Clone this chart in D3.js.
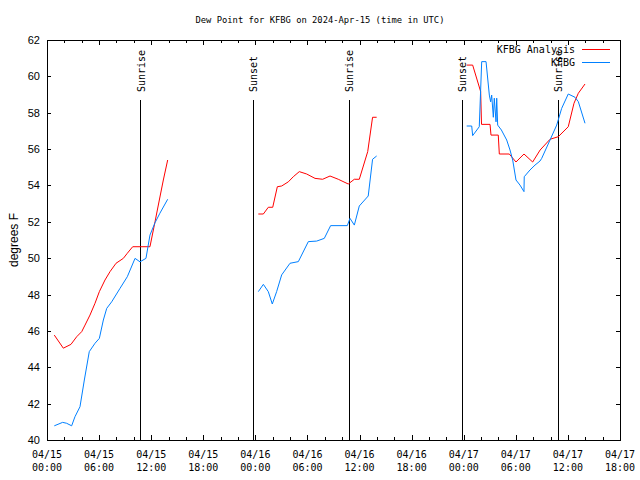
<!DOCTYPE html>
<html>
<head>
<meta charset="utf-8">
<script src="https://cdn.jsdelivr.net/npm/d3@7"></script>
<style>
  html, body { margin: 0; padding: 0; background: #fff; }
  svg { display: block; }
</style>
</head>
<body>
<script>
// ---- data (hours after 2024-04-15 00:00 UTC; null = gap) ----
const analysisHours = [0.84,1.88,2.76,3.42,4.0,4.38,4.95,5.53,6.03,6.68,7.26,7.95,8.79,9.25,9.87,11.86,12.44,12.94,13.4,13.9,
  null,
  24.34,24.92,25.49,26.0,26.53,27.03,27.8,28.37,29.06,29.91,30.87,31.75,32.6,33.55,34.7,35.4,35.97,36.94,37.5,37.97,
  null,
  48.34,49.03,49.95,50.05,51.03,51.14,51.98,52.1,53.25,54.02,54.94,55.94,56.8,57.94,58.89,60.04,60.7,61.2,61.97];
const analysisValues = [45.77,45.05,45.26,45.68,45.96,46.32,46.87,47.52,48.16,48.8,49.26,49.72,49.99,50.27,50.63,50.63,52.0,53.2,54.3,55.4,
  null,
  52.43,52.43,52.8,52.8,53.93,53.97,54.2,54.48,54.76,54.63,54.39,54.34,54.52,54.34,54.08,54.34,54.34,55.86,57.75,57.75,
  null,
  60.62,60.62,59.16,57.36,57.36,56.77,56.77,55.73,55.73,55.29,55.73,55.29,55.95,56.54,56.68,57.23,58.52,59.07,59.58];

const obsHours = [0.84,1.8,2.26,2.84,3.22,3.8,4.3,4.87,5.53,6.03,6.49,6.88,7.45,8.41,9.25,10.14,10.71,11.4,11.86,12.44,13.0,13.9,
  null,
  24.34,24.92,25.49,25.95,26.45,27.03,27.99,28.95,30.1,31.06,31.94,32.67,34.59,34.9,35.4,35.97,37.0,37.5,37.97,
  null,
  48.34,48.92,49.03,49.79,50.07,50.57,50.95,51.1,51.22,51.41,51.52,51.72,51.8,51.91,52.34,52.95,53.33,53.64,54.02,54.48,54.94,54.97,55.63,56.21,56.78,56.98,57.94,58.71,59.28,60.04,60.82,61.2,61.97];
const obsValues = [40.78,40.97,40.92,40.78,41.28,41.83,43.3,44.86,45.32,45.59,46.6,47.24,47.6,48.34,48.98,49.99,49.8,49.99,51.27,51.95,52.47,53.24,
  null,
  48.16,48.56,48.16,47.48,48.16,49.08,49.72,49.81,50.91,50.94,51.09,51.79,51.79,52.19,51.82,52.87,53.42,55.44,55.62,
  null,
  57.27,57.27,56.74,57.23,60.81,60.81,58.97,58.6,58.97,57.75,58.8,57.5,58.8,57.32,57.05,56.5,55.95,55.4,54.3,54.02,53.66,54.48,54.85,55.12,55.34,55.49,56.5,57.32,58.24,59.03,58.85,58.61,57.42];

const sunLabels = ["Sunrise","Sunset","Sunrise","Sunset","Sunrise"];
const sunHours  = [10.79, 23.76, 34.82, 47.83, 58.89];

const seriesNames  = ["KFBG Analysis", "KFBG"];
const seriesColors = ["#ff0000", "#0080ff"];

const yTickValues = [40,42,44,46,48,50,52,54,56,58,60,62];
const xMajorHours = [0,6,12,18,24,30,36,42,48,54,60,66];
const xMinorHours = d3.range(0, 67, 2);

const title = "Dew Point for KFBG on 2024-Apr-15 (time in UTC)";
const yLabel = "degrees F";

// ---- helpers ----
const base = Date.UTC(2024, 3, 15, 0, 0);
const toDate = h => new Date(base + h * 3600e3);
const fmtDate = d3.utcFormat("%m/%d");
const fmtTime = d3.utcFormat("%H:%M");

const W = 640, H = 480;
const L = 47, R = 620, T = 40, B = 440;
const mono = "'DejaVu Sans Mono', 'Liberation Mono', monospace";
const sans = "'Liberation Sans', Arial, sans-serif";

const svg = d3.select("body").append("svg").attr("width", W).attr("height", H);
svg.append("rect").attr("width", W).attr("height", H).attr("fill", "#fff");

const x = d3.scaleUtc().domain([toDate(0), toDate(66)]).range([L, R]);
const y = d3.scaleLinear().domain([40, 62]).range([B, T]);

// title
svg.append("text").attr("x", 320).attr("y", 23).attr("text-anchor", "middle")
  .style("font-family", mono).style("font-size", "8.8px").text(title);

// y axis label
svg.append("text").attr("transform", `translate(14,${(T + B) / 2}) rotate(-90)`)
  .attr("text-anchor", "middle").attr("dy", "0.35em")
  .style("font-family", sans).style("font-size", "12px").text(yLabel);

// axes (ticks pointing inward)
const gyL = svg.append("g").attr("transform", `translate(${L},0)`)
  .call(d3.axisLeft(y).tickValues(yTickValues).tickSize(-4).tickPadding(7).tickFormat(d3.format("d")));
const gyR = svg.append("g").attr("transform", `translate(${R},0)`)
  .call(d3.axisRight(y).tickValues(yTickValues).tickSize(-4).tickFormat(""));
const gxB = svg.append("g").attr("transform", `translate(0,${B})`)
  .call(d3.axisBottom(x).tickValues(xMinorHours.map(toDate)).tickSize(-3).tickFormat(""));
const gxBM = svg.append("g").attr("transform", `translate(0,${B})`)
  .call(d3.axisBottom(x).tickValues(xMajorHours.map(toDate)).tickSize(-5).tickFormat(""));
const gxT = svg.append("g").attr("transform", `translate(0,${T})`)
  .call(d3.axisTop(x).tickValues(xMinorHours.map(toDate)).tickSize(-3).tickFormat(""));
const gxTM = svg.append("g").attr("transform", `translate(0,${T})`)
  .call(d3.axisTop(x).tickValues(xMajorHours.map(toDate)).tickSize(-5).tickFormat(""));
[gyL, gyR, gxB, gxBM, gxT, gxTM].forEach(g => {
  g.select(".domain").remove();
  g.selectAll("line").attr("stroke", "#000").attr("shape-rendering", "crispEdges");
});
gyL.selectAll("text").style("font-family", sans).style("font-size", "11px").attr("fill", "#000");

// x tick labels (two lines)
const xl = svg.append("g");
xMajorHours.forEach(h => {
  const d = toDate(h);
  const t = xl.append("text").attr("x", x(d)).attr("text-anchor", "middle")
    .style("font-family", mono).style("font-size", "10px");
  t.append("tspan").attr("x", x(d)).attr("y", 458).text(fmtDate(d));
  t.append("tspan").attr("x", x(d)).attr("y", 471).text(fmtTime(d));
});

// sunrise / sunset markers
sunHours.forEach((h, i) => {
  const px = x(toDate(h));
  svg.append("line").attr("x1", px).attr("x2", px)
    .attr("y1", y(40 + 0.85 * 22)).attr("y2", y(40))
    .attr("stroke", "#000").attr("shape-rendering", "crispEdges");
  svg.append("text").attr("transform", `translate(${px + 4},${y(40 + 0.87 * 22)}) rotate(-90)`)
    .attr("text-anchor", "start")
    .style("font-family", mono).style("font-size", "10px").text(sunLabels[i]);
});

// series
const line = d3.line()
  .defined(d => d[1] !== null)
  .x(d => x(toDate(d[0]))).y(d => y(d[1]));

const analysisData = analysisHours.map((h, i) => [h, analysisValues[i]]);
const obsData = obsHours.map((h, i) => [h, obsValues[i]]);

svg.append("path").datum(analysisData).attr("d", line)
  .attr("fill", "none").attr("stroke", seriesColors[0]).attr("stroke-width", 1);
svg.append("path").datum(obsData).attr("d", line)
  .attr("fill", "none").attr("stroke", seriesColors[1]).attr("stroke-width", 1);

// legend
seriesNames.forEach((n, i) => {
  const ly = 49 + i * 13;
  svg.append("text").attr("x", 575).attr("y", ly).attr("dy", "0.35em").attr("text-anchor", "end")
    .style("font-family", mono).style("font-size", "10px").text(n);
  svg.append("line").attr("x1", 582).attr("x2", 610).attr("y1", ly).attr("y2", ly)
    .attr("stroke", seriesColors[i]).attr("shape-rendering", "crispEdges");
});

// border
svg.append("rect").attr("x", L).attr("y", T).attr("width", R - L).attr("height", B - T)
  .attr("fill", "none").attr("stroke", "#000").attr("shape-rendering", "crispEdges");
</script>
</body>
</html>
